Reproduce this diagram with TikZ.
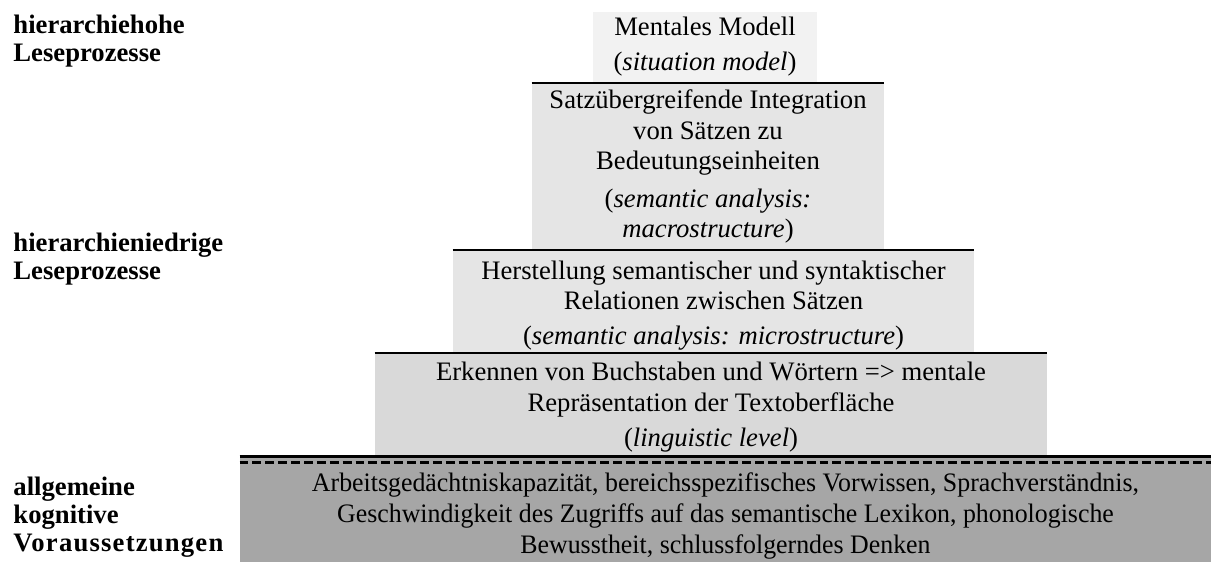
\documentclass[tikz,border=0pt]{standalone}
\usepackage{fontspec}
\setmainfont{Liberation Serif}
\usetikzlibrary{calc}
\definecolor{lvA}{gray}{0.95}
\definecolor{lvB}{gray}{0.90}
\definecolor{lvC}{gray}{0.90}
\definecolor{lvD}{gray}{0.85}
\definecolor{lvE}{gray}{0.65}
\tikzstyle{lv}=[shape=rectangle, inner sep=0, align=center, font=\fontsize{12}{13.8}\selectfont]
\tikzstyle{side}=[inner sep=0, anchor=north west, align=left, font=\fontsize{12}{12.6}\selectfont\bfseries]
\tikzstyle{rim}=[line width=0.9pt]

\begin{document}
\begin{tikzpicture}[x=0.45pt, y=-0.45pt]
\useasboundingbox (0,0) rectangle (1211,561);
%
\draw (705,47) node[lv, fill=lvA, minimum width=100.8pt, minimum height=31.5pt] (b1) {Mentales Modell\\[2pt](\textit{situation model})};
\draw (708,166.5) node[lv, fill=lvB, minimum width=158.4pt, minimum height=75.15pt] (b2) {Satzübergreifende Integration\\von Sätzen zu\\Bedeutungseinheiten\\[3pt](\textit{semantic analysis:}\\\textit{macrostructure})};
\draw (713.5,305.5) node[lv, fill=lvC, minimum width=234.45pt, minimum height=49.95pt] (b3) {Herstellung semantischer und syntaktischer\\Relationen zwischen Sätzen\\[2pt](\textit{semantic analysis: microstructure})};
\draw (711,407) node[lv, fill=lvD, minimum width=302.4pt, minimum height=48.6pt] (b4) {Erkennen von Buchstaben und Wörtern => mentale\\Repräsentation der Textoberfläche\\[2pt](\textit{linguistic level})};
\draw (725.5,516) node[lv, fill=lvE, minimum width=436.95pt, minimum height=53.1pt, font=\fontsize{12}{13.8}\selectfont\addfontfeature{FakeStretch=0.97}] (b5) {Arbeitsgedächtniskapazität, bereichsspezifisches Vorwissen, Sprachverständnis,\\Geschwindigkeit des Zugriffs auf das semantische Lexikon, phonologische\\Bewusstheit, schlussfolgerndes Denken};
%
\foreach \x in {2,3,4}
    {
	\draw[rim] (b\x.north west)--(b\x.north east);}
\draw[line width=1.35pt] (b5.north west)--(b5.north east);
\draw[line width=1.35pt, dash pattern=on 4pt off 1.8pt] ($(b5.north west)+(0,6)$)--($(b5.north east)+(0,6)$);
%
\draw (13,15) node[side] (hi) {hierarchiehohe\\Leseprozesse};
\draw (13,233) node[side] (lo) {hierarchieniedrige\\Leseprozesse};
\draw (13,477) node[side] (kg) {allgemeine\\kognitive\\{\addfontfeature{LetterSpace=4.5}Voraussetzungen}};
\end{tikzpicture}
\end{document}
